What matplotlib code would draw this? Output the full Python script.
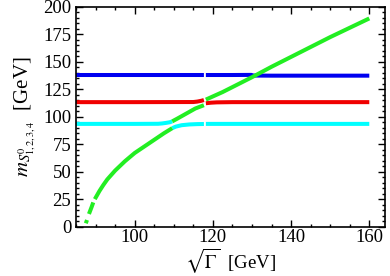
import numpy as np
import matplotlib
matplotlib.use('Agg')
import matplotlib.pyplot as plt
from matplotlib.ticker import MultipleLocator

plt.rcParams['font.family'] = ['Liberation Serif', 'DejaVu Serif']
plt.rcParams['mathtext.fontset'] = 'stix'

nan = np.nan

# blue state
blue_x = [85.0, 100.0, 117.7, nan, 118.2, 125.0, 129.8, 130.4, 135.0, 160.0]
blue_y = [138.0, 138.0, 138.0, nan, 138.0, 138.0, 138.1, 137.5, 137.4, 137.4]

# red state
red_x = [85.0, 100.0, 115.0, 116.0, 117.0, 117.7, nan, 118.2, 119.5, 121.0, 125.0, 160.0]
red_y = [113.3, 113.3, 113.4, 113.8, 114.5, 115.2, nan, 112.3, 112.8, 113.1, 113.3, 113.3]

# cyan state
cyan_x = [85.0, 100.0, 106.0, 107.0, 108.0, 109.0, 109.6, nan,
          109.6, 110.5, 112.0, 114.0, 116.0, 117.7, nan, 118.2, 130.0, 160.0]
cyan_y = [93.5, 93.5, 93.6, 93.9, 94.4, 95.0, 95.8, nan,
          89.6, 91.0, 92.3, 93.0, 93.3, 93.4, nan, 93.5, 93.5, 93.5]

# green state
green_x = [87.5, 87.8, nan, 88.3, 89.0, 89.4, nan, 89.8, 91.0, 92.0, 93.0, 95.0, 97.5,
           100.0, 102.5, 105.0, 107.5, 109.6, nan,
           109.6, 111.0, 112.5, 114.0, 115.5, 117.7, nan,
           118.2, 120.0, 122.5, 125.0, 127.5, 130.0, 135.0, 140.0, 145.0, 150.0, 155.0, 160.0]
green_y = [3.0, 6.0, nan, 11.5, 18.0, 22.0, nan, 25.0, 32.5, 38.0, 43.0, 51.0, 59.5,
           67.0, 73.0, 79.0, 85.0, 89.6, nan,
           95.8, 98.5, 101.5, 104.5, 107.5, 110.5, nan,
           115.6, 118.5, 122.5, 127.0, 131.5, 136.0, 145.5, 154.5, 163.5, 172.5, 181.0, 189.5]

fig = plt.figure(figsize=(3.9, 2.76), dpi=100)
ax = fig.add_axes([0.195, 0.179, 0.792, 0.796])

lw = 2.9
ax.plot(blue_x, blue_y, color='#0000f0', lw=lw, solid_capstyle='butt')
ax.plot(red_x, red_y, color='#f00000', lw=lw, solid_capstyle='butt')
ax.plot(cyan_x, cyan_y, color='#00ffff', lw=lw, solid_capstyle='butt')
ax.plot(green_x, green_y, color='#22ee22', lw=lw, solid_capstyle='butt')

ax.set_xlim(85, 164)
ax.set_ylim(0, 200)
ax.xaxis.set_major_locator(MultipleLocator(20))
ax.xaxis.set_minor_locator(MultipleLocator(5))
ax.yaxis.set_major_locator(MultipleLocator(25))
ax.yaxis.set_minor_locator(MultipleLocator(5))
ax.tick_params(which='both', direction='in', top=True, right=True, labelsize=13.5, width=1)
ax.tick_params(axis='x', pad=2)
ax.tick_params(which='major', length=5)
ax.tick_params(which='minor', length=2.5)
for s in ax.spines.values():
    s.set_linewidth(1.2)

ax.set_xlabel(r'$\sqrt{\Gamma}$  [GeV]', fontsize=13.5, labelpad=0)
ax.set_ylabel(r'$m_{S^0_{1,2,3,4}}$  [GeV]', fontsize=15, labelpad=4)

fig.savefig('out.png', dpi=100)
